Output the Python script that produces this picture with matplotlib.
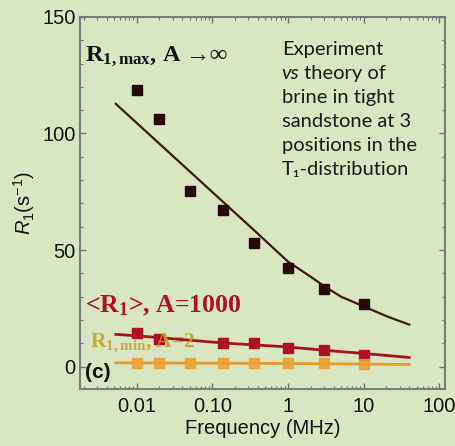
import matplotlib
matplotlib.use("Agg")
import matplotlib.pyplot as plt
from matplotlib.ticker import FixedLocator, MultipleLocator, LogLocator, NullFormatter

# experimental points
f_max = [0.01, 0.02, 0.05, 0.14, 0.35, 1.0, 3.0, 10.0]
r_max = [118.7, 106.3, 75.4, 67.3, 53.1, 42.4, 33.4, 27.0]
f_avg = [0.01, 0.02, 0.14, 0.35, 1.0, 3.0, 10.0]
r_avg = [14.6, 12.0, 10.3, 10.3, 8.1, 6.9, 5.1]
f_min = [0.01, 0.02, 0.05, 0.14, 0.35, 1.0, 3.0, 10.0]
r_min = [1.4, 1.4, 1.4, 1.4, 1.5, 1.5, 1.4, 1.3]

# theory curves
ft_max = [0.0053, 0.35, 1.0, 2.0, 3.0, 5.0, 10.0, 20.0, 40.0]
rt_max = [112.7, 58.7, 45.0, 38.5, 34.5, 30.0, 25.8, 21.6, 18.0]
ft_avg = [0.0053, 0.01, 0.14, 1.0, 3.0, 10.0, 40.0]
rt_avg = [13.8, 13.2, 10.1, 8.4, 7.0, 5.6, 3.9]
ft_min = [0.0053, 1.0, 40.0]
rt_min = [1.6, 1.3, 0.9]

xticks = [0.01, 0.1, 1, 10, 100]
xticklabels = ["0.01", "0.10", "1", "10", "100"]
yticks = [0, 50, 100, 150]

bg = "#d9e6c2"
plt.rcParams["font.family"] = ["Liberation Sans", "DejaVu Sans"]
plt.rcParams["mathtext.fontset"] = "custom"
plt.rcParams["mathtext.rm"] = "Liberation Sans"
plt.rcParams["mathtext.it"] = "Liberation Sans:italic"
plt.rcParams["mathtext.bf"] = "Liberation Serif:bold"
plt.rcParams["mathtext.sf"] = "Liberation Sans"

fig = plt.figure(figsize=(4.56, 4.46), dpi=100, facecolor=bg)
ax = fig.add_axes([0.1754, 0.128, 0.800, 0.834], facecolor=bg)

ax.plot(ft_max, rt_max, color="#3a1c12", lw=1.6, zorder=2)
ax.plot(ft_avg, rt_avg, color="#a8121e", lw=2.0, zorder=2)
ax.plot(ft_min, rt_min, color="#e89a2a", lw=2.0, zorder=2)
ax.plot(f_max, r_max, "s", color="#2a0808", ms=7, zorder=3)
ax.plot(f_avg, r_avg, "s", color="#b01020", ms=7.5, zorder=3)
ax.plot(f_min, r_min, "s", color="#eba034", ms=7.5, alpha=0.9, zorder=3)

ax.set_xscale("log")
ax.set_xlim(0.00178, 118)
ax.set_ylim(-9.6, 150)
ax.xaxis.set_major_locator(FixedLocator(xticks))
ax.set_xticklabels(xticklabels)
ax.xaxis.set_minor_locator(LogLocator(base=10, subs=range(2, 10), numticks=20))
ax.xaxis.set_minor_formatter(NullFormatter())
ax.yaxis.set_major_locator(FixedLocator(yticks))
ax.yaxis.set_minor_locator(MultipleLocator(10))

ax.tick_params(which="both", direction="in", top=True, right=True,
               color="#707070", labelsize=14.5, labelcolor="#111111")
ax.tick_params(which="major", length=4, width=1)
ax.tick_params(which="minor", length=2.5, width=0.8)
ax.tick_params(axis="x", pad=6)
ax.tick_params(axis="y", pad=3)
for s in ax.spines.values():
    s.set_color("#7a7a7a")
    s.set_linewidth(1.5)

ax.set_xlabel("Frequency (MHz)", fontsize=14.5, color="#111111", labelpad=2)
ax.set_ylabel(r"$R_1$(s$^{-1}$)", fontsize=14.5, color="#111111", labelpad=4)

serif = ["Liberation Serif", "DejaVu Serif"]
ax.text(0.0021, 133, r"$\mathbf{R_{1,max}}$, A →∞", family=serif, weight="bold",
        fontsize=17.5, color="#111111", va="center", ha="left")
ax.text(0.0021, 26, r"<$\mathbf{R_1}$>, A=1000", family=serif, weight="bold",
        fontsize=18.5, color="#b01020", va="center", ha="left")
ax.text(0.0024, 10, r"$\mathbf{R_{1,min}}$, A=2", family=serif, weight="bold",
        fontsize=15.5, color="#c9a126", alpha=0.9, va="center", ha="left")
ax.text(0.0021, -2.5, "(c)", weight="bold", fontsize=15, color="#111111",
        va="center", ha="left")

# note on the right
lato = ["Lato", "DejaVu Sans"]
x0 = 0.553
lines = ["Experiment", None, "brine in tight", "sandstone at 3",
         "positions in the", "T₁-distribution"]
y0, dy = 0.898, 0.0645
for i, ln in enumerate(lines):
    y = y0 - i * dy
    if ln is None:
        t = ax.text(x0, y, "vs", transform=ax.transAxes, family=lato,
                    style="italic", fontsize=14.5, color="#1a1a1a", va="baseline")
        ax.annotate(" theory of", xy=(1, 0), xycoords=t, family=lato,
                    fontsize=14.5, color="#1a1a1a", va="bottom")
    else:
        ax.text(x0, y, ln, transform=ax.transAxes, family=lato,
                fontsize=14.5, color="#1a1a1a", va="baseline")

fig.savefig("out.png", dpi=100, facecolor=bg)
